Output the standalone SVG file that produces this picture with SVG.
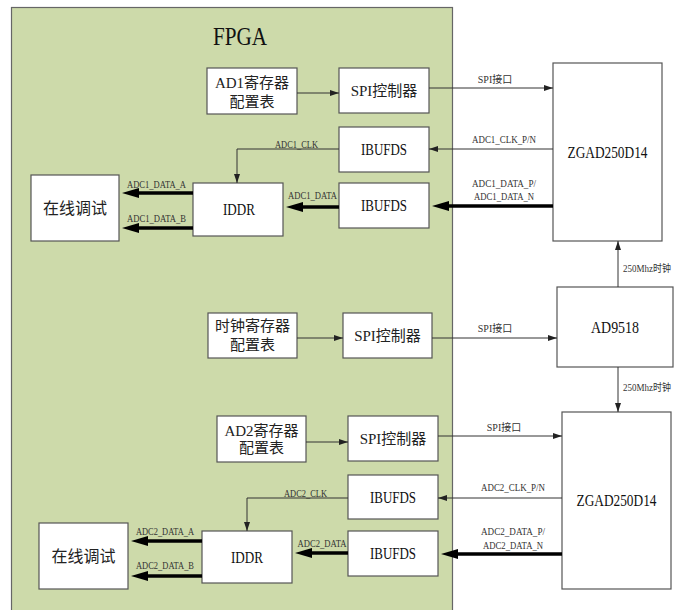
<svg xmlns="http://www.w3.org/2000/svg" width="675" height="610" viewBox="0 0 675 610">
<defs>
<marker id="a" markerUnits="userSpaceOnUse" markerWidth="9" markerHeight="6" refX="9" refY="3" orient="auto"><path d="M0,0 L9,3 L0,6 z" fill="#222"/></marker>
<marker id="A" markerUnits="userSpaceOnUse" markerWidth="17" markerHeight="10" refX="3" refY="5" orient="auto"><path d="M0,0 L17,5 L0,10 z" fill="#000"/></marker>
<style>
.box{fill:#fff;stroke:#555;stroke-width:1.2}
.t{font-family:"Liberation Serif","Noto Sans CJK SC",serif;font-size:15px;fill:#222;text-anchor:middle}
.b{font-family:"Liberation Serif","Noto Sans CJK SC",serif;font-size:16px;fill:#111;text-anchor:middle}
.l{font-family:"Liberation Serif","Noto Sans CJK SC",serif;font-size:10px;fill:#333;text-anchor:middle}
.ln{fill:none;stroke:#333;stroke-width:1;marker-end:url(#a)}
.th{fill:none;stroke:#000;stroke-width:3.5;marker-end:url(#A)}
</style>
</defs>
<g id="fpga">
<rect x="11.5" y="7.5" width="441" height="620" fill="#cddaaa" stroke="#666" stroke-width="1.2"/>
<text x="240" y="45" class="b" style="font-size:26px" textLength="54" lengthAdjust="spacingAndGlyphs">FPGA</text>
</g>
<g id="ad1cfg"><rect class="box" x="207" y="68" width="90" height="46"/><text class="t" x="252" y="87.5">AD1寄存器</text><text class="t" x="252" y="106.5">配置表</text></g>
<g id="spi1"><rect class="box" x="339" y="68" width="90" height="45"/><text class="t" x="384" y="96">SPI控制器</text></g>
<g id="ibufds1"><rect class="box" x="339" y="127" width="90" height="45"/><text class="b" x="384" y="155" textLength="46" lengthAdjust="spacingAndGlyphs">IBUFDS</text></g>
<g id="ibufds2"><rect class="box" x="339" y="183" width="90" height="45"/><text class="b" x="384" y="211" textLength="46" lengthAdjust="spacingAndGlyphs">IBUFDS</text></g>
<g id="iddr1"><rect class="box" x="193" y="183" width="90" height="53"/><text class="b" x="239" y="215" textLength="32" lengthAdjust="spacingAndGlyphs">IDDR</text></g>
<g id="debug1"><rect class="box" x="31" y="175" width="88" height="66"/><text class="t" x="75" y="213.5" style="font-size:16px">在线调试</text></g>
<g id="zgad1"><rect class="box" x="553" y="63" width="109" height="178"/><text class="b" x="607.5" y="157.5" textLength="80" lengthAdjust="spacingAndGlyphs">ZGAD250D14</text></g>
<g id="ad9518"><rect class="box" x="557" y="287" width="116" height="80"/><text class="b" x="615" y="332.5" textLength="48" lengthAdjust="spacingAndGlyphs">AD9518</text></g>
<g id="clkcfg"><rect class="box" x="208" y="313" width="89" height="45"/><text class="t" x="252.5" y="330.5">时钟寄存器</text><text class="t" x="252.5" y="350">配置表</text></g>
<g id="spi2"><rect class="box" x="343" y="313" width="89" height="45"/><text class="t" x="387.5" y="341">SPI控制器</text></g>
<g id="ad2cfg"><rect class="box" x="217" y="416" width="89" height="46"/><text class="t" x="261.5" y="435.5">AD2寄存器</text><text class="t" x="261.5" y="453">配置表</text></g>
<g id="spi3"><rect class="box" x="348" y="416" width="90" height="45"/><text class="t" x="393" y="444">SPI控制器</text></g>
<g id="ibufds3"><rect class="box" x="348" y="475" width="90" height="44"/><text class="b" x="393" y="502.5" textLength="46" lengthAdjust="spacingAndGlyphs">IBUFDS</text></g>
<g id="ibufds4"><rect class="box" x="348" y="531" width="90" height="45"/><text class="b" x="393" y="558.5" textLength="46" lengthAdjust="spacingAndGlyphs">IBUFDS</text></g>
<g id="iddr2"><rect class="box" x="202" y="531" width="90" height="52"/><text class="b" x="247" y="562.5" textLength="32" lengthAdjust="spacingAndGlyphs">IDDR</text></g>
<g id="debug2"><rect class="box" x="39" y="523" width="89" height="66"/><text class="t" x="83.5" y="561.5" style="font-size:16px">在线调试</text></g>
<g id="zgad2"><rect class="box" x="562" y="412" width="109" height="177"/><text class="b" x="616.5" y="505.5" textLength="80" lengthAdjust="spacingAndGlyphs">ZGAD250D14</text></g>
<g id="connectors">
<path class="ln" d="M297,93 H339"/>
<path class="ln" d="M429,88 H553"/>
<path class="ln" d="M553,149 H429"/>
<path class="ln" d="M339,149 H237 V183"/>
<path class="ln" d="M618,287 V241"/>
<path class="ln" d="M618,367 V412"/>
<path class="ln" d="M297,338 H343"/>
<path class="ln" d="M432,338 H557"/>
<path class="ln" d="M306,442 H348"/>
<path class="ln" d="M438,436 H562"/>
<path class="ln" d="M562,498 H438"/>
<path class="ln" d="M348,498 H247 V531"/>
<path class="th" d="M553,206 H446"/>
<path class="th" d="M339,207 H300"/>
<path class="th" d="M193,193 H136"/>
<path class="th" d="M193,228 H136"/>
<path class="th" d="M562,554 H455"/>
<path class="th" d="M348,553 H309"/>
<path class="th" d="M202,541 H145"/>
<path class="th" d="M202,576 H145"/>
<text class="l" x="495" y="83">SPI接口</text>
<text class="l" x="495" y="332">SPI接口</text>
<text class="l" x="504" y="431">SPI接口</text>
<text class="l" x="504" y="143" textLength="64" lengthAdjust="spacingAndGlyphs">ADC1_CLK_P/N</text>
<text class="l" x="504" y="187" textLength="64" lengthAdjust="spacingAndGlyphs">ADC1_DATA_P/</text>
<text class="l" x="504" y="200" textLength="60" lengthAdjust="spacingAndGlyphs">ADC1_DATA_N</text>
<text class="l" x="513" y="491" textLength="64" lengthAdjust="spacingAndGlyphs">ADC2_CLK_P/N</text>
<text class="l" x="513" y="535" textLength="64" lengthAdjust="spacingAndGlyphs">ADC2_DATA_P/</text>
<text class="l" x="513" y="549" textLength="60" lengthAdjust="spacingAndGlyphs">ADC2_DATA_N</text>
<text class="l" x="296.5" y="148" textLength="43" lengthAdjust="spacingAndGlyphs">ADC1_CLK</text>
<text class="l" x="312.5" y="199" textLength="49" lengthAdjust="spacingAndGlyphs">ADC1_DATA</text>
<text class="l" x="156.5" y="188" textLength="59" lengthAdjust="spacingAndGlyphs">ADC1_DATA_A</text>
<text class="l" x="156.5" y="222" textLength="59" lengthAdjust="spacingAndGlyphs">ADC1_DATA_B</text>
<text class="l" x="305.5" y="496.5" textLength="43" lengthAdjust="spacingAndGlyphs">ADC2_CLK</text>
<text class="l" x="322" y="547" textLength="49" lengthAdjust="spacingAndGlyphs">ADC2_DATA</text>
<text class="l" x="165" y="535" textLength="58" lengthAdjust="spacingAndGlyphs">ADC2_DATA_A</text>
<text class="l" x="165" y="569" textLength="58" lengthAdjust="spacingAndGlyphs">ADC2_DATA_B</text>
<text class="l" x="623" y="271.5" style="text-anchor:start" textLength="48" lengthAdjust="spacingAndGlyphs">250Mhz时钟</text>
<text class="l" x="623" y="391" style="text-anchor:start" textLength="48" lengthAdjust="spacingAndGlyphs">250Mhz时钟</text>
</g>
</svg>
